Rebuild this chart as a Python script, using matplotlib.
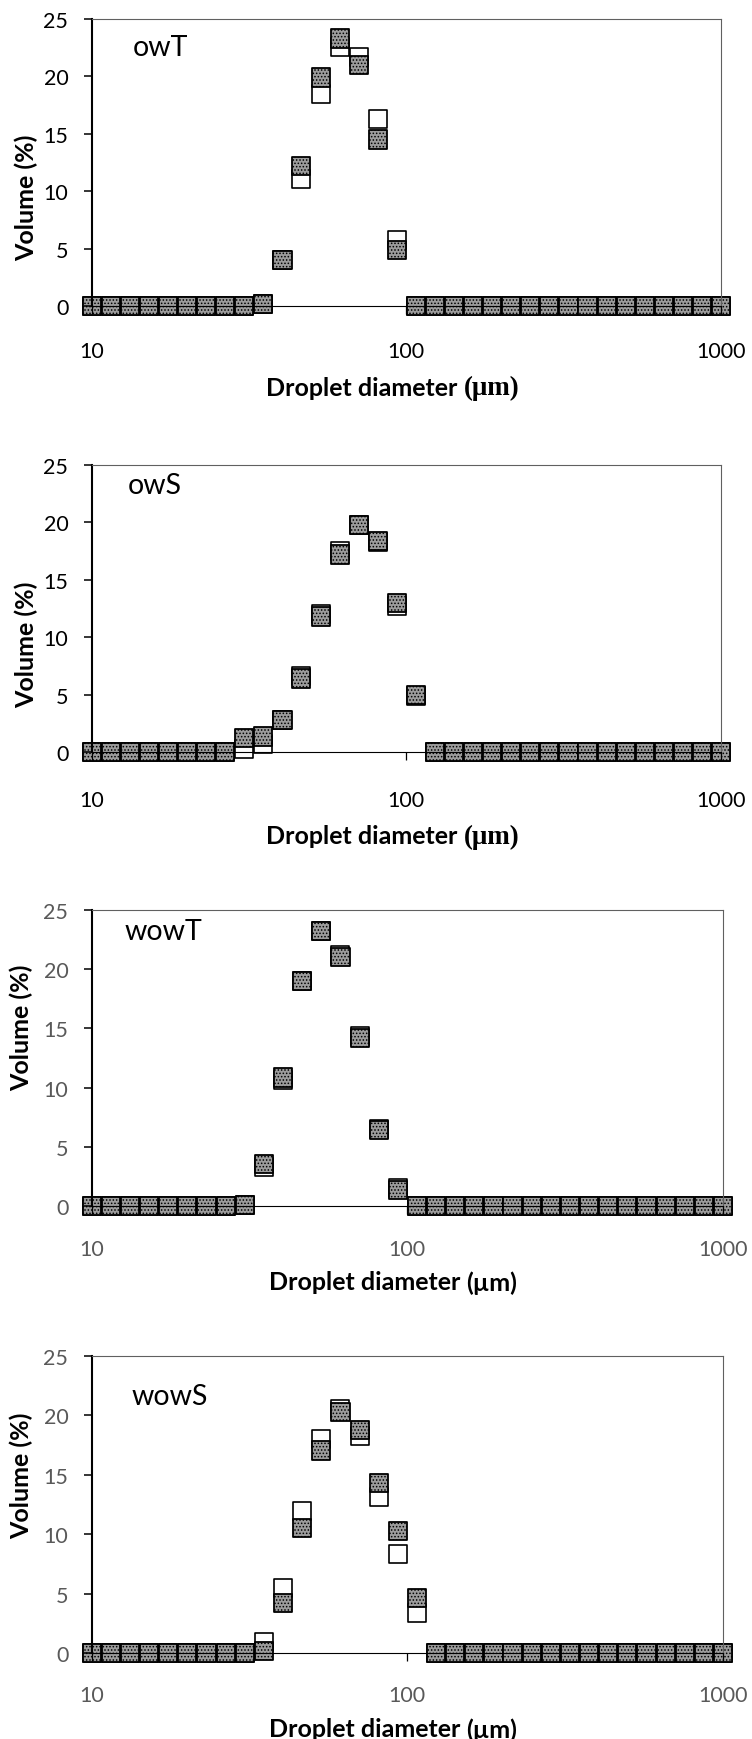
import matplotlib
matplotlib.use('Agg')
import matplotlib.pyplot as plt
from matplotlib.ticker import FixedLocator, NullLocator, FuncFormatter

plt.rcParams['font.family'] = ['Lato', 'DejaVu Sans']
plt.rcParams['hatch.color'] = '#383838'
plt.rcParams['hatch.linewidth'] = 0.7

# ---------------- data ----------------
diameter_um = [10.0, 11.5, 13.2, 15.2, 17.5, 20.1, 23.1, 26.6, 30.5, 35.1,
               40.4, 46.4, 53.4, 61.4, 70.6, 81.1, 93.3, 107.2, 123.3, 141.8,
               163.0, 187.4, 215.4, 247.7, 284.8, 327.5, 376.5, 432.9, 497.7,
               572.2, 657.9, 756.5, 869.7, 1000.0]

panel_names = ['owT', 'owS', 'wowT', 'wowS']

owT_open = [0, 0, 0, 0, 0, 0, 0, 0, 0, 0.2, 4.0, 11.1, 18.5, 22.6, 21.7, 16.3, 5.75,
            0, 0, 0, 0, 0, 0, 0, 0, 0, 0, 0, 0, 0, 0, 0, 0, 0]
owT_hatch = [0, 0, 0, 0, 0, 0, 0, 0, 0, 0.2, 4.0, 12.2, 19.9, 23.3, 21.0, 14.5, 4.85,
             0, 0, 0, 0, 0, 0, 0, 0, 0, 0, 0, 0, 0, 0, 0, 0, 0]

owS_open = [0, 0, 0, 0, 0, 0, 0, 0, 0.3, 0.7, 2.8, 6.6, 12.0, 17.5, 19.8, 18.3, 12.7, 4.9,
            0, 0, 0, 0, 0, 0, 0, 0, 0, 0, 0, 0, 0, 0, 0, 0]
owS_hatch = [0, 0, 0, 0, 0, 0, 0, 0, 1.2, 1.35, 2.8, 6.4, 11.8, 17.2, 19.8, 18.4, 13.0, 4.95,
             0, 0, 0, 0, 0, 0, 0, 0, 0, 0, 0, 0, 0, 0, 0, 0]

wowT_open = [0, 0, 0, 0, 0, 0, 0, 0, 0.1, 3.3, 10.65, 19.0, 23.2, 21.2, 14.4, 6.5, 1.5,
             0, 0, 0, 0, 0, 0, 0, 0, 0, 0, 0, 0, 0, 0, 0, 0, 0]
wowT_hatch = [0, 0, 0, 0, 0, 0, 0, 0, 0.1, 3.55, 10.85, 19.0, 23.2, 21.0, 14.2, 6.4, 1.35,
              0, 0, 0, 0, 0, 0, 0, 0, 0, 0, 0, 0, 0, 0, 0, 0, 0]

wowS_open = [0, 0, 0, 0, 0, 0, 0, 0, 0, 0.9, 5.45, 11.95, 18.0, 20.55, 18.3, 13.15, 8.3, 3.4,
             0, 0, 0, 0, 0, 0, 0, 0, 0, 0, 0, 0, 0, 0, 0, 0]
wowS_hatch = [0, 0, 0, 0, 0, 0, 0, 0, 0, 0.15, 4.2, 10.55, 17.05, 20.3, 18.8, 14.3, 10.25, 4.65,
              0, 0, 0, 0, 0, 0, 0, 0, 0, 0, 0, 0, 0, 0, 0, 0]

open_series = [owT_open, owS_open, wowT_open, wowS_open]
hatch_series = [owT_hatch, owS_hatch, wowT_hatch, wowS_hatch]

x_ticks = [10, 100, 1000]
y_ticks = [0, 5, 10, 15, 20, 25]
x_title_main = 'Droplet diameter '
x_title_unit_serif = '(\u03bcm)'
x_title_unit_sans = '(\u00b5m)'
y_title = 'Volume (%)'

# ---------------- layout (pixels) ----------------
W, H = 752, 1740
L = 91.7
rights = [721, 721, 723, 723]
tops = [20, 466, 911, 1357]
bots = [307, 753, 1207, 1654]
tick_colors = ['black', 'black', '#595959', '#595959']
xtick_gap = [43, 46, 41, 40]
xlabel_gap = [81, 84, 76, 76]
ylabel_cx = [26.5, 26.5, 21.5, 21.5]
ylabel_val = [9.5, 9.4, 15.1, 15.0]
name_x = [133, 128, 125, 132]
name_val = [22.6, 23.3, 23.2, 21.6]
serif_unit = [True, True, False, False]

TICK_FS = 15.5
LABEL_FS = 18
NAME_FS = 20.5

fig = plt.figure(figsize=(W / 100, H / 100), dpi=100)
renderer = fig.canvas.get_renderer()

for k in range(4):
    R, top, bot = rights[k], tops[k], bots[k]
    ax = fig.add_axes([L / W, 1 - bot / H, (R - L) / W, (bot - top) / H])
    ax.set_xscale('log')
    ax.set_xlim(10, 1000)
    ax.set_ylim(0, 25)

    ax.scatter(diameter_um, open_series[k], marker='s', s=170, facecolors='white',
               edgecolors='black', linewidths=1.2, clip_on=False, zorder=1)
    ax.scatter(diameter_um, hatch_series[k], marker='s', s=170, facecolors='#9c9c9c',
               edgecolors='black', linewidths=1.3, hatch='.....', clip_on=False, zorder=1.1)

    ax.xaxis.set_major_locator(FixedLocator(x_ticks))
    ax.xaxis.set_minor_locator(NullLocator())
    ax.xaxis.set_major_formatter(FuncFormatter(lambda v, p: '%d' % v))
    ax.set_yticks(y_ticks)

    pad_x = (xtick_gap[k] - 8 - 8) * 0.72
    ax.tick_params(axis='x', direction='out', length=5.8, width=0.9, pad=pad_x,
                   labelsize=TICK_FS, labelcolor=tick_colors[k], color='black')
    ax.tick_params(axis='y', direction='out', length=5.8, width=1.1, pad=11,
                   labelsize=TICK_FS, labelcolor=tick_colors[k], color='black')

    for s in ['top', 'right']:
        ax.spines[s].set_color('#606060')
        ax.spines[s].set_linewidth(0.8)
    ax.spines['left'].set_color('black')
    ax.spines['left'].set_linewidth(1.5)
    ax.spines['bottom'].set_color('black')
    ax.spines['bottom'].set_linewidth(0.8)

    # x-axis title: main part in sans bold, unit part serif bold (panels 1-2)
    y_ax = -xlabel_gap[k] / (bot - top)
    unit = x_title_unit_serif if serif_unit[k] else x_title_unit_sans
    unit_family = ['Liberation Serif', 'DejaVu Serif'] if serif_unit[k] else ['Lato', 'DejaVu Sans']
    unit_fs = LABEL_FS * 1.08 if serif_unit[k] else LABEL_FS
    t1 = ax.text(0, y_ax, x_title_main, transform=ax.transAxes, fontsize=LABEL_FS,
                 fontweight='bold', ha='right', va='center')
    t2 = ax.text(0, y_ax, unit, transform=ax.transAxes, fontsize=unit_fs,
                 fontweight='bold', ha='left', va='center', family=unit_family)
    w1 = t1.get_window_extent(renderer).width
    w2 = t2.get_window_extent(renderer).width
    split_px = 393 - (w1 + w2) / 2 + w1
    xs = (split_px - L) / (R - L)
    t1.set_x(xs)
    t2.set_x(xs)

    ax.set_ylabel(y_title, fontsize=LABEL_FS, fontweight='bold', va='center')
    ax.yaxis.set_label_coords((ylabel_cx[k] - L) / (R - L), ylabel_val[k] / 25)

    ax.text((name_x[k] - L) / (R - L), name_val[k] / 25, panel_names[k],
            transform=ax.transAxes, ha='left', va='center', fontsize=NAME_FS)

fig.savefig('out.png', dpi=100)
